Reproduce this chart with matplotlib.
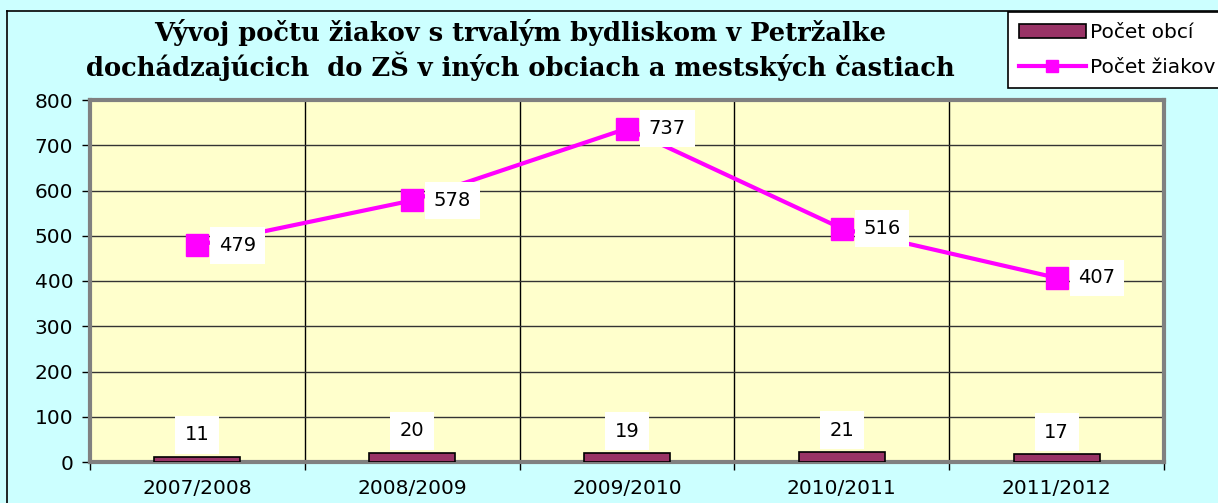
import matplotlib
matplotlib.use("Agg")
import matplotlib.pyplot as plt
from matplotlib.lines import Line2D
from matplotlib.patches import Patch

years = ['2007/2008', '2008/2009', '2009/2010', '2010/2011', '2011/2012']
pocet_obci = [11, 20, 19, 21, 17]
pocet_ziakov = [479, 578, 737, 516, 407]
title = ('Vývoj počtu žiakov s trvalým bydliskom v Petržalke\n'
         'dochádzajúcich  do ZŠ v iných obciach a mestských častiach')

W, H = 1218, 503
plt.rcParams['font.family'] = ['DejaVu Sans']

fig = plt.figure(figsize=(W / 100, H / 100), dpi=100)
fig.patch.set_facecolor('#ccffff')

# outer chart border (top and left edges visible)
fig.add_artist(Line2D([7 / W, 7 / W], [0, 1 - 11 / H], color='black', lw=1.2))
fig.add_artist(Line2D([7 / W, 1], [1 - 11 / H, 1 - 11 / H], color='black', lw=1.2))

ax = fig.add_axes([90 / W, 1 - 462 / H, (1164 - 90) / W, (462 - 100) / H])
ax.set_facecolor('#ffffcc')

x = range(len(years))
ax.bar(x, pocet_obci, width=0.4, color='#993366', edgecolor='black', lw=1.2, zorder=3)
ax.plot(x, pocet_ziakov, color='#ff00ff', lw=3, marker='s', markersize=16, zorder=4)

for i, v in enumerate(pocet_obci):
    ax.annotate(str(v), (i, v), xytext=(0, 16), textcoords='offset points',
                ha='center', va='center', fontsize=14, zorder=5,
                bbox=dict(boxstyle='square,pad=0.5', fc='white', ec='none'))
for i, v in enumerate(pocet_ziakov):
    ax.annotate(str(v), (i, v), xytext=(29, 0), textcoords='offset points',
                ha='center', va='center', fontsize=14, zorder=5,
                bbox=dict(boxstyle='square,pad=0.45', fc='white', ec='none'))

ax.set_xlim(-0.5, len(years) - 0.5)
ax.set_ylim(0, 800)
ax.set_yticks(range(0, 801, 100))
ax.set_xticks(list(x))
ax.set_xticklabels(years, fontsize=14.5)
ax.set_xticks([i - 0.5 for i in range(len(years) + 1)], minor=True)
ax.tick_params(axis='x', which='major', length=0, pad=12)
ax.tick_params(axis='x', which='minor', length=6, width=1)
ax.tick_params(axis='y', labelsize=14.5, length=6, width=1, pad=6)
ax.grid(axis='y', color='#333333', lw=1, zorder=1)
ax.grid(axis='x', which='minor', color='black', lw=1, zorder=1)
for s in ax.spines.values():
    s.set_color('#808080')
    s.set_linewidth(3)

fig.text(520 / W, 1 - 50 / H, title, ha='center', va='center', fontsize=18.5,
         fontweight='bold', family=['DejaVu Serif'], linespacing=1.25)

handles = [Patch(facecolor='#993366', edgecolor='black', lw=1.2),
           Line2D([], [], color='#ff00ff', lw=3, marker='s', markersize=9)]
leg = fig.legend(handles, ['Počet obcí', 'Počet žiakov'], loc='upper left',
                 bbox_to_anchor=(1008 / W, 1 - 12 / H), borderaxespad=0,
                 fontsize=14.5, fancybox=False, edgecolor='black', facecolor='white',
                 framealpha=1, handlelength=3.3, handletextpad=0.2, labelspacing=0.8,
                 borderpad=0.55)
leg.get_frame().set_linewidth(1.2)

fig.savefig('out.png', dpi=100, facecolor=fig.get_facecolor())
